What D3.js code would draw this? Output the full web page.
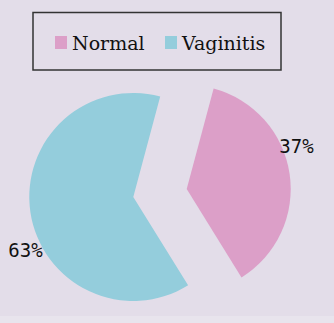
<!DOCTYPE html>
<html><head><meta charset="utf-8">
<script src="https://cdn.jsdelivr.net/npm/d3@7"></script>
<style>html,body{margin:0;padding:0;background:#e3dde9;}svg{display:block;}</style>
</head><body>
<script>
const categories = ["Normal", "Vaginitis"];
const values = [37, 63];
const labels = ["37%", "63%"];
const colors = ["#dc9fc8", "#94cddc"];

const W = 334, H = 323;
const svg = d3.select("body").append("svg").attr("width", W).attr("height", H);
svg.append("rect").attr("width", W).attr("height", H).attr("fill", "#e3dde9");
svg.append("rect").attr("y", 316).attr("width", W).attr("height", 7).attr("fill", "#e8e4ed");

const cx = 160, cy = 193, r = 104, explode = 27;
const deg = Math.PI / 180;
const pie = d3.pie().sort(null).value(d => d).startAngle(15 * deg).endAngle(375 * deg);
const arcs = pie(values);
const arc = d3.arc().innerRadius(0).outerRadius(r);

const g = svg.append("g").attr("transform", `translate(${cx},${cy})`);
arcs.forEach((a, i) => {
  const mid = (a.startAngle + a.endAngle) / 2;
  const dx = Math.sin(mid) * explode, dy = -Math.cos(mid) * explode;
  const sg = g.append("g").attr("transform", `translate(${dx},${dy})`);
  sg.append("path").attr("d", arc(a)).attr("fill", colors[i]);
  const la = mid - 15.5 * deg, lr = 119;
  sg.append("text")
    .attr("x", Math.sin(la) * lr + 1).attr("y", -Math.cos(la) * lr + 5)
    .attr("text-anchor", "middle").attr("dominant-baseline", "central")
    .attr("font-family", "DejaVu Sans Mono").attr("font-size", 19)
    .attr("fill", "#111").text(labels[i]);
});

// legend
svg.append("rect").attr("x", 33).attr("y", 12.5).attr("width", 248).attr("height", 57.5)
  .attr("fill", "none").attr("stroke", "#333").attr("stroke-width", 1.5);
const legX = [55, 165];
categories.forEach((c, i) => {
  svg.append("rect").attr("x", legX[i]).attr("y", 36).attr("width", 12).attr("height", 13).attr("fill", colors[i]);
  svg.append("text").attr("x", legX[i] + 17).attr("y", 50)
    .attr("font-family", "DejaVu Serif").attr("font-size", 19).attr("fill", "#111").text(c);
});
</script>
</body></html>
